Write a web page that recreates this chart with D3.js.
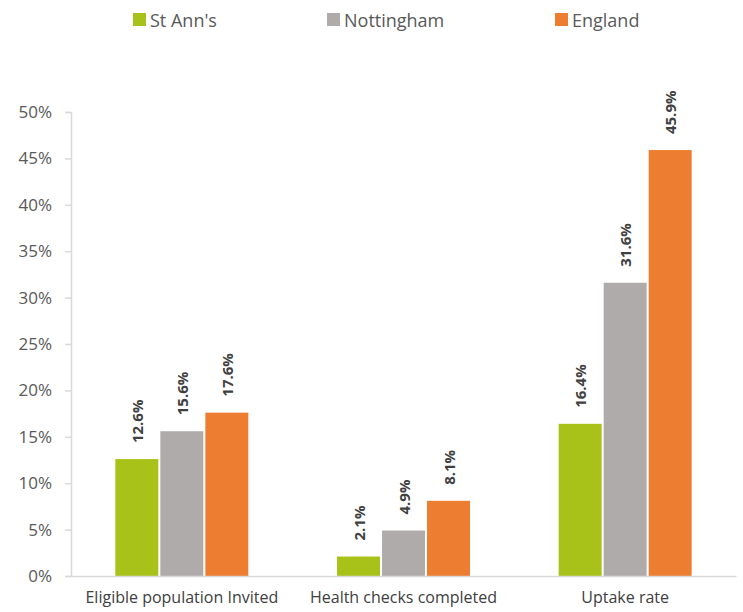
<!DOCTYPE html>
<html><head><meta charset="utf-8">
<script src="https://cdn.jsdelivr.net/npm/d3@7"></script>
<style>body{margin:0;background:#fff;}text{font-family:"Open Sans",sans-serif;}</style>
</head><body><svg id="c" width="743" height="612"></svg>
<script>
const categories = ["Eligible population Invited", "Health checks completed", "Uptake rate"];
const series = ["St Ann's", "Nottingham", "England"];
const stAnns = [12.6, 2.1, 16.4];
const nottingham = [15.6, 4.9, 31.6];
const england = [17.6, 8.1, 45.9];
const yTicks = [0, 5, 10, 15, 20, 25, 30, 35, 40, 45, 50];
const colors = ["#A9C21A", "#AFABAB", "#ED7D31"];

(function () {
const values = [stAnns, nottingham, england];
const svg = d3.select("#c");
const mLeft = 71, mRight = 736, mTop = 112, mBottom = 576;

const x0 = d3.scaleBand().domain(categories).range([mLeft, mRight]).padding(0);
const groupW = 133;
const x1 = d3.scaleBand().domain(series)
  .range([(x0.step() - groupW) / 2, (x0.step() + groupW) / 2]).paddingInner(0.045);
const y = d3.scaleLinear().domain([0, 50]).range([mBottom, mTop]);

// y axis
const yAxis = svg.append("g").attr("transform", `translate(${mLeft},0)`)
  .call(d3.axisLeft(y).tickValues(yTicks).tickSize(6).tickPadding(13).tickFormat(d => d + "%"));
yAxis.select(".domain").attr("stroke", "#d9d9d9").attr("stroke-width", 1.5);
yAxis.selectAll(".tick line").attr("stroke", "#d9d9d9").attr("stroke-width", 1.5);
yAxis.selectAll(".tick text").attr("fill", "#595959").style("font-size", "17px");

// bars
categories.forEach((c, i) => {
  const g = svg.append("g").attr("transform", `translate(${x0(c)},0)`);
  series.forEach((s, j) => {
    const v = values[j][i];
    g.append("rect").attr("x", x1(s)).attr("y", y(v))
      .attr("width", x1.bandwidth()).attr("height", y(0) - y(v))
      .attr("fill", colors[j]);
    const cx = x1(s) + x1.bandwidth() / 2 + 2;
    g.append("text").attr("transform", `translate(${cx},${y(v) - 16}) rotate(-90)`)
      .attr("text-anchor", "start").attr("dominant-baseline", "middle")
      .attr("fill", "#404040").style("font-size", "15px").style("font-weight", "bold")
      .text(v.toFixed(1) + "%");
  });
});

// x axis
const xAxis = svg.append("g").attr("transform", `translate(0,${mBottom})`)
  .call(d3.axisBottom(x0).tickSize(0).tickPadding(16));
xAxis.select(".domain").attr("stroke", "#d9d9d9").attr("stroke-width", 1.5);
xAxis.selectAll(".tick text").attr("fill", "#404040").style("font-size", "16px");

// legend
const legX = [133, 327, 555];
series.forEach((s, j) => {
  svg.append("rect").attr("x", legX[j]).attr("y", 13).attr("width", 13).attr("height", 13).attr("fill", colors[j]);
  svg.append("text").attr("x", legX[j] + 17).attr("y", 20).attr("dominant-baseline", "central")
    .attr("fill", "#595959").style("font-size", "18px").text(s);
});
})();
</script></body></html>
